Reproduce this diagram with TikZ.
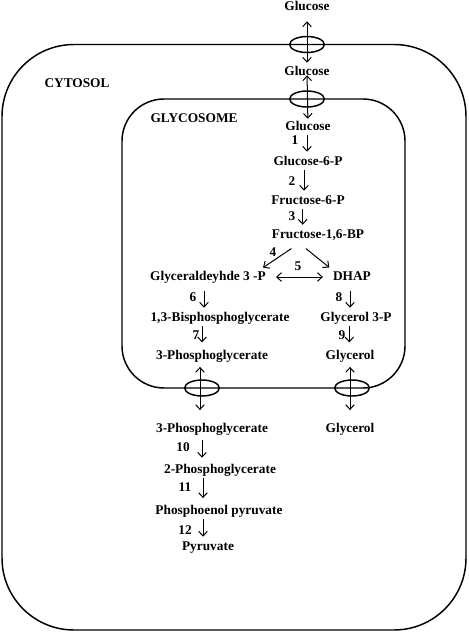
\documentclass[tikz,border=0pt]{standalone}
\usepackage{fontspec}
\setmainfont{Liberation Serif}
\usetikzlibrary{shapes.geometric,arrows.meta}
\tikzset{
    txt/.style ={
        font=\fontsize{10}{12}\selectfont\bfseries,
        inner sep=1.5pt,
        text height=7pt,
        text depth=2pt
    },
    flow/.style ={
        -{Straight Barb[length=3.5pt,width=6.5pt]},
        line width=0.75pt,
        shorten >=1.5pt
    },
    both/.style ={
        {Straight Barb[length=3.5pt,width=6.5pt]}-{Straight Barb[length=3.5pt,width=6.5pt]},
        line width=0.75pt
    },
    membrane/.style ={
        line width=1.1pt
    },
    pore/.style ={
        ellipse,
        draw,
        line width=1.1pt,
        minimum width=26pt,
        minimum height=12pt,
        inner sep=0pt
    }
}

\begin{document}
\begin{tikzpicture}[x=0.75pt,y=-0.75pt]
    \useasboundingbox (0,0) rectangle (468,632);

        \draw[membrane, rounded corners=54pt] (2,44.5) rectangle (466,630);
        \draw[membrane, rounded corners=31.5pt] (122,99) rectangle (405,388);

        \node[pore] (PORETOP) at (307,44.5) {};
        \node[pore] (POREGLY) at (307,99) {};
        \node[pore] (PORE3PG) at (202,388) {};
        \node[pore] (POREGOL) at (352,388) {};

        \node[txt] (CYTOSOL) at (77,84) {CYTOSOL};
        \node[txt] (GLYCOSOME) at (194,119) {GLYCOSOME};

        \node[txt] (GLCOUT) at (307,7) {Glucose};
        \node[txt] (GLCMID) at (307,72) {Glucose};
        \node[txt] (GLCIN) at (308,127) {Glucose};
        \node[txt] (G6P) at (308,162) {Glucose-6-P};
        \node[txt] (F6P) at (308,201) {Fructose-6-P};
        \node[txt] (F16BP) at (318,235) {Fructose-1,6-BP};
        \node[txt] (GAP) at (208,277) {Glyceraldeyhde 3 -P};
        \node[txt] (DHAP) at (352,277) {DHAP};
        \node[txt] (BPG) at (220,318) {1,3-Bisphosphoglycerate};
        \node[txt] (G3P) at (356,318) {Glycerol 3-P};
        \node[txt] (PGIN) at (212,356) {3-Phosphoglycerate};
        \node[txt] (GOLIN) at (350,356) {Glycerol};
        \node[txt] (PGOUT) at (212,429) {3-Phosphoglycerate};
        \node[txt] (GOLOUT) at (350,429) {Glycerol};
        \node[txt] (PG2) at (220,470) {2-Phosphoglycerate};
        \node[txt] (PEP) at (219,511) {Phosphoenol pyruvate};
        \node[txt] (PYR) at (208,547) {Pyruvate};

        \node[txt] (N1) at (295,141) {1};
        \node[txt] (N2) at (292,182) {2};
        \node[txt] (N3) at (292,217) {3};
        \node[txt] (N4) at (273,253) {4};
        \node[txt] (N5) at (298,267) {5};
        \node[txt] (N6) at (193,298) {6};
        \node[txt] (N8) at (339,298) {8};
        \node[txt] (N7) at (196,336) {7};
        \node[txt] (N9) at (342,336) {9};
        \node[txt] (N10) at (183,448) {10};
        \node[txt] (N11) at (185,488) {11};
        \node[txt] (N12) at (185,531) {12};

        \draw[both, shorten <=4.5pt, shorten >=0.75pt] (GLCOUT)--(GLCMID);
        \draw[both, shorten <=-3.75pt] (GLCMID)--(GLCIN);
        \draw[flow] ([xshift=-0.75pt]GLCIN.south)--([xshift=-0.75pt]G6P.north);
        \draw[flow] ([xshift=-3pt]G6P.south)--([xshift=-3pt]F6P.north);
        \draw[flow] ([xshift=-4pt]F6P.south)--([xshift=-4pt]F6P.south |- F16BP.north);
        \draw[flow] ([xshift=-20pt,yshift=-4pt]F16BP.south)--([xshift=-5pt]GAP.north east);
        \draw[flow] ([xshift=-9pt,yshift=-4pt]F16BP.south)--(DHAP.north west);
        \draw[both, shorten <=6pt, shorten >=6pt] (GAP)--(DHAP);
        \draw[flow, shorten <=4pt] ([xshift=-3pt]GAP.south)--([xshift=-3pt]GAP.south |- BPG.north);
        \draw[flow, shorten <=4pt] ([xshift=-1.5pt]DHAP.south)--([xshift=-1.5pt]DHAP.south |- G3P.north);
        \draw[flow, shorten >=4pt] ([xshift=-13.5pt]BPG.south)--([xshift=-13.5pt]BPG.south |- PGIN.north);
        \draw[flow, shorten >=4pt] ([xshift=-5pt]G3P.south)--([xshift=-5pt]G3P.south |- GOLIN.north);
        \draw[both, shorten <=2pt, shorten >=8pt] ([xshift=-9pt]PGIN.south)--([xshift=-9pt]PGIN.south |- PGOUT.north);
        \draw[both, shorten <=2pt, shorten >=8pt] (GOLIN)--(GOLOUT);
        \draw[flow, shorten <=2pt, shorten >=3pt] ([xshift=-7.5pt]PGOUT.south)--([xshift=-7.5pt]PGOUT.south |- PG2.north);
        \draw[flow, shorten >=3.5pt] ([xshift=-12.75pt]PG2.south)--([xshift=-12.75pt]PG2.south |- PEP.north);
        \draw[flow] ([xshift=-12pt]PEP.south)--([xshift=-12pt]PEP.south |- PYR.north);
    \end{tikzpicture}
\end{document}
